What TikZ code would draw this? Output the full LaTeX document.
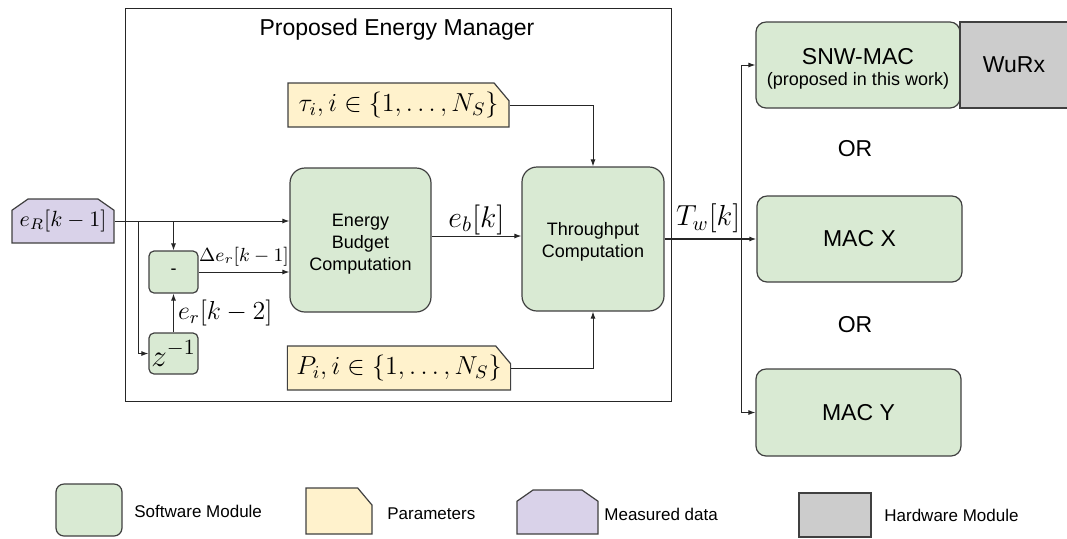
\RequirePackage{fix-cm}
\documentclass[tikz,border=0pt]{standalone}
\usepackage{amsmath, amssymb}
\usepackage[no-math]{fontspec}
\setmainfont{Liberation Sans}
\usetikzlibrary{arrows.meta, shapes.misc, positioning}
\definecolor{swfill}{HTML}{D9EAD3}
\definecolor{parfill}{HTML}{FFF2CC}
\definecolor{measfill}{HTML}{D9D2E9}
\definecolor{hwfill}{HTML}{CCCCCC}

\begin{document}
\begin{tikzpicture}[x=0.5pt, y=-0.5pt]
\tikzstyle{every node}+=[inner sep=0pt, text=black]
\tikzstyle{soft}=[draw=black!75, line width=0.6pt, fill=swfill, align=center]
\tikzstyle{param}=[chamfered rectangle, chamfered rectangle corners=north east, chamfered rectangle xsep=4.5pt, chamfered rectangle angle=40, draw=black!75, line width=0.6pt, fill=parfill]
\tikzstyle{meas}=[chamfered rectangle, chamfered rectangle corners={north east, north west}, chamfered rectangle xsep=3pt, chamfered rectangle angle=55, draw=black!75, line width=0.6pt, fill=measfill]
\tikzstyle{hw}=[draw=black!75, line width=0.6pt, fill=hwfill]
\tikzstyle{wire}=[black!85, line width=0.5pt, -{Latex[length=3.5pt, width=2.5pt]}]
\tikzstyle{big}=[font=\fontsize{11.5}{11.5}\selectfont]
\tikzstyle{mid}=[font=\fontsize{9}{11}\selectfont]
\tikzstyle{leg}=[font=\fontsize{8.5}{10}\selectfont, anchor=west]
\useasboundingbox (0,0) rectangle (1067,538);

\node [draw=black!85, line width=0.5pt, minimum width=273pt, minimum height=196.5pt] (manager) at (398,204.5) {};
\node [big] (title) at (397,30) {Proposed Energy Manager};

\node [meas, minimum width=51pt, minimum height=22pt, font=\fontsize{11}{13}\selectfont] (eR) at (63,221) {$e_R[k-1]$};
\node [soft, rounded corners=2.5pt, minimum width=24.5pt, minimum height=21pt, mid] (minus) at (173.5,272) {-};
\node [soft, rounded corners=2.5pt, minimum width=24.5pt, minimum height=20.5pt, font=\fontsize{15.5}{17}\selectfont] (zinv) at (173.5,353.5) {$z^{-1}$};
\node [soft, rounded corners=7.5pt, minimum width=70.5pt, minimum height=72pt, mid] (energy) at (360.5,240) {\rule{0pt}{10pt}Energy\\Budget\\Computation};
\node [soft, rounded corners=7.5pt, minimum width=71pt, minimum height=72pt, mid] (thru) at (593,239) {\rule{0pt}{9pt}Throughput\\Computation};
\node [param, minimum width=110.5pt, minimum height=22pt, font=\fontsize{13}{15}\selectfont] (tau) at (398.5,105) {$\tau_i, i \in \{1,\ldots,N_S\}$};
\node [param, minimum width=108pt, minimum height=22pt, font=\fontsize{13}{15}\selectfont] (pw) at (399,368) {$P_i, i \in \{1,\ldots,N_S\}$};

\node [soft, rounded corners=5pt, minimum width=102pt, minimum height=43pt] (snw) at (858,65) {\fontsize{11.5}{11.5}\selectfont\rule{0pt}{12pt}SNW-MAC\\[-1.5pt]\fontsize{9}{11}\selectfont (proposed in this work)};
\node [hw, minimum width=54pt, minimum height=43pt, big] (wurx) at (1014,65) {WuRx};
\node [big] (or1) at (855,149) {OR};
\node [soft, rounded corners=5pt, minimum width=102.5pt, minimum height=43pt, big] (macx) at (859.5,239) {MAC X};
\node [big] (or2) at (855,325) {OR};
\node [soft, rounded corners=5pt, minimum width=102.5pt, minimum height=43.5pt, big] (macy) at (858.5,412.5) {MAC Y};

\coordinate (tap) at (138,221);
\coordinate (bus) at (741,239);
\draw [wire] (eR.east) -- (eR.east -| energy.west);
\draw [wire] (eR.east -| minus.north) -- (minus.north);
\draw [wire] (tap) |- (zinv.west);
\draw [wire] (zinv.north) -- (minus.south) node [midway, right=2pt, font=\fontsize{13}{15}\selectfont] {$e_r[k-2]$};
\draw [wire] (minus.east) -- (minus.east -| energy.west) node [midway, above=2.5pt, font=\fontsize{9.5}{11}\selectfont] {$\Delta e_r[k-1]$};
\draw [wire] (energy.east |- 0,236) -- (thru.west |- 0,236) node [midway, above=0.5pt, font=\fontsize{15}{17}\selectfont] {$e_b[k]$};
\draw [wire] (tau.east) -| (thru.north);
\draw [wire] (pw.east) -| (thru.south);
\draw [black!85, line width=1pt] (thru.east) -- (bus) node [pos=0.57, above=2.5pt, font=\fontsize{14.5}{16}\selectfont] {$T_w[k]$};
\draw [wire, line width=1pt] (bus) -- (macx.west);
\draw [wire] (bus) |- (snw.west);
\draw [wire] (bus) |- (macy.west);

\node [soft, rounded corners=4pt, minimum width=33pt, minimum height=26pt] (lsw) at (89,510) {};
\node [leg] (lswt) at (134,511) {Software Module};
\node [param, minimum width=33pt, minimum height=23pt] (lpar) at (339,511) {\phantom{\rule{20pt}{10pt}}};
\node [leg] (lpart) at (387,514) {Parameters};
\node [meas, minimum width=40.5pt, minimum height=22pt] (lmeas) at (557.5,512) {\phantom{\rule{26pt}{10pt}}};
\node [leg] (lmeast) at (604,514) {Measured data};
\node [hw, minimum width=36pt, minimum height=22pt] (lhw) at (835,515) {};
\node [leg] (lhwt) at (884,515) {Hardware Module};
\end{tikzpicture}
\end{document}
